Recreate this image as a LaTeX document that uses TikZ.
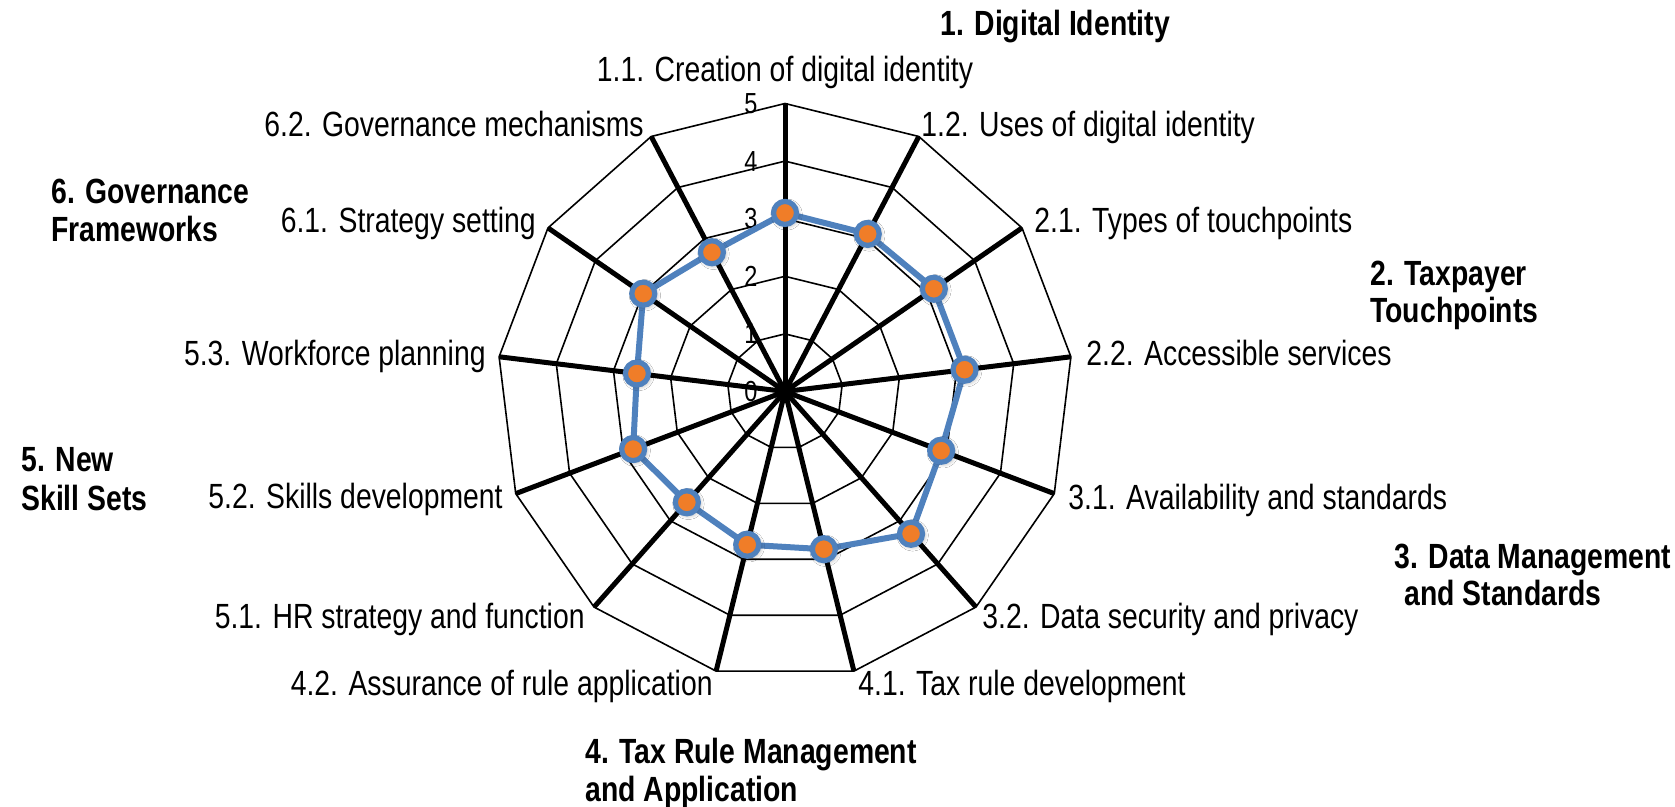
\documentclass[tikz,border=0pt]{standalone}
\usepackage{fontspec}
\setmainfont[FakeStretch=0.81]{Liberation Sans}
\usetikzlibrary{calc,shadows.blur}
\definecolor{serblue}{HTML}{4F81BD}
\definecolor{serorange}{HTML}{F07D28}
\begin{document}
\begin{tikzpicture}[x=0.5pt,y=-0.5pt,
  ring/.style={draw=black,line width=0.8pt,line join=miter},
  spoke/.style={draw=black,line width=2.5pt},
  sublab/.style={font=\fontsize{17.5}{20}\selectfont, inner sep=0pt},
  catlab/.style={font=\fontsize{17.5}{20}\selectfont\bfseries, inner sep=0pt, anchor=base west},
  ticklab/.style={font=\fontsize{14.5}{16}\selectfont, inner sep=0pt},
  series/.style={draw=serblue,line width=3pt,line join=round},
  marker/.style={circle,fill=serorange,draw=serblue,line width=2.6pt,minimum size=11.5pt,inner sep=0pt,
    blur shadow={shadow blur steps=6,shadow xshift=0.8pt,shadow yshift=-0.8pt,shadow opacity=35}}
]
\useasboundingbox[fill=white] (0,0) rectangle (1675,807);
\coordinate (c) at (785,391.5);
\foreach \k in {0,...,12} {
  \coordinate (ax\k) at ({785+288*cos(-90+\k*360/13)},{391.5+288*sin(-90+\k*360/13)});
}
% rings
\begin{scope}[shift={(785,391.5)}]
\foreach \i in {1,...,5} {
  \draw[ring] (-90:{57.6*\i}) \foreach \k in {1,...,12}{ -- ({-90+\k*360/13}:{57.6*\i}) } -- cycle;
}
\end{scope}
% spokes
\foreach \k in {0,...,12} { \draw[spoke] (c) -- (ax\k); }
% tick labels
\foreach \i in {0,...,5} {
  \node[ticklab] (t\i) at (751,{391.5-57.6*\i}) {\i};
}
% data
\foreach \v [count=\k from 0] in {3.10,3.09,3.14,3.14,2.90,3.30,2.82,2.74,2.57,2.82,2.59,2.99,2.73} {
  \coordinate (d\k) at ($(c)!\v/5!(ax\k)$);
}
\draw[series] (d0) -- (d1) -- (d2) -- (d3) -- (d4) -- (d5) -- (d6) -- (d7) -- (d8) -- (d9) -- (d10) -- (d11) -- (d12) -- cycle;
\foreach \k in {0,...,12} { \node[marker] (m\k) at (d\k) {}; }
% axis labels
\node[sublab,anchor=base] (l11) at (785,82) {1.1. Creation of digital identity};
\node[sublab,anchor=base west] (l12) at (921,137) {1.2. Uses of digital identity};
\node[sublab,anchor=base west] (l21) at (1034,233) {2.1. Types of touchpoints};
\node[sublab,anchor=base west] (l22) at (1086,366) {2.2. Accessible services};
\node[sublab,anchor=base west] (l31) at (1068,509) {3.1. Availability and standards};
\node[sublab,anchor=base west] (l32) at (982,628) {3.2. Data security and privacy};
\node[sublab,anchor=base west] (l41) at (858,695) {4.1. Tax rule development};
\node[sublab,anchor=base east] (l42) at (713,695) {4.2. Assurance of rule application};
\node[sublab,anchor=base east] (l51) at (585,628) {5.1. HR strategy and function};
\node[sublab,anchor=base east] (l52) at (503,508) {5.2. Skills development};
\node[sublab,anchor=base east] (l53) at (486,366) {5.3. Workforce planning};
\node[sublab,anchor=base east] (l61) at (536,233) {6.1. Strategy setting};
\node[sublab,anchor=base east] (l62) at (644,137) {6.2. Governance mechanisms};
% category labels
\node[catlab] (c1) at (940,36) {1. Digital Identity};
\node[catlab] (c2a) at (1370,286) {2. Taxpayer};
\node[catlab] (c2b) at (1370,323) {Touchpoints};
\node[catlab] (c3a) at (1394,568) {3. Data Management};
\node[catlab] (c3b) at (1404,605) {and Standards};
\node[catlab] (c4a) at (585,763) {4. Tax Rule Management};
\node[catlab] (c4b) at (585,801) {and Application};
\node[catlab] (c5a) at (21,471) {5. New};
\node[catlab] (c5b) at (21,510) {Skill Sets};
\node[catlab] (c6a) at (51,204) {6. Governance};
\node[catlab] (c6b) at (51,242) {Frameworks};
\end{tikzpicture}
\end{document}
